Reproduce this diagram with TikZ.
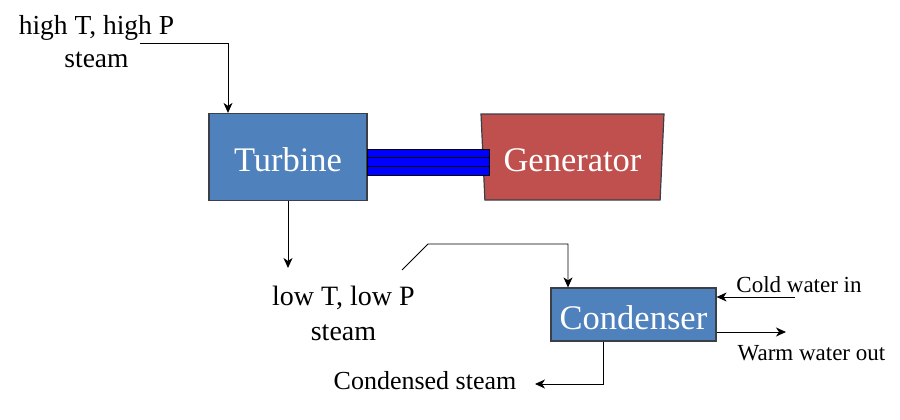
\documentclass[tikz,border=0pt]{standalone}
\usepackage{fontspec}
\setmainfont{Liberation Serif}
\usetikzlibrary{shapes.geometric,arrows.meta}

\begin{document}
\begin{tikzpicture}[x=1pt,y=-1pt,
  unit/.style={draw=edge,line width=1.2pt,text=white,inner sep=0pt,text height=29pt,text depth=0pt,font=\fontsize{34.5}{40}\selectfont},
  flow/.style={line width=0.9pt,-{Stealth[length=10pt,width=9pt,inset=3pt]}},
  note/.style={inner sep=0pt,align=center,anchor=base}]
\definecolor{turbblue}{HTML}{4F81BD}
\definecolor{genred}{HTML}{C0504D}
\definecolor{shaftblue}{HTML}{0000FF}
\definecolor{edge}{HTML}{3A3F48}
\useasboundingbox (0,0) rectangle (900,420);
\node[unit,fill=turbblue,minimum width=158pt,minimum height=87pt] (turbine) at (288,157) {Turbine};
\node[unit,fill=genred,trapezium,trapezium stretches=true,shape border rotate=180,
  trapezium left angle=84,trapezium right angle=84,minimum width=183pt,minimum height=86pt] (generator) at (572.5,157) {Generator};
\node[draw,fill=shaftblue,line width=1pt,minimum width=122pt,minimum height=26pt,inner sep=0pt] (shaft) at (428,162) {};
\foreach \dy in {-4.3,4.3}
  {\draw[line width=1.1pt] (shaft.west) ++(0,\dy) -- ++(122,0);}
\node[unit,fill=turbblue,minimum width=165pt,minimum height=53pt] (condenser) at (633.5,314.5) {Condenser};
\node[note,font=\fontsize{27.5}{33}\selectfont] (histeam) at (96.5,68) {high T, high P\\steam};
\node[note,font=\fontsize{28}{35}\selectfont] (lowsteam) at (343.5,340) {low T, low P\\steam};
\node[note,font=\fontsize{26}{30}\selectfont] (condensed) at (425,389) {Condensed steam};
\node[note,font=\fontsize{23}{28}\selectfont] (cold) at (799,292) {Cold water in};
\node[note,font=\fontsize{23}{28}\selectfont] (warm) at (811.5,360) {Warm water out};
\coordinate (hiin) at (140,43);
\coordinate (lowtip) at (288,268);
\coordinate (lowout) at (402,270);
\coordinate (drain) at (535,384);
\coordinate (coldin) at (795,297);
\coordinate (warmout) at (786,332);
\draw[flow] (hiin) -| ([xshift=-60pt]turbine.north);
\draw[flow] (turbine.south) -- (lowtip);
\draw[flow] (lowout) -- ++(26,-26) -| ([xshift=-65.5pt]condenser.north);
\draw[flow] ([xshift=-30.5pt]condenser.south) |- (drain);
\draw[flow] (coldin) -- (coldin -| condenser.east);
\draw[flow] (warmout -| condenser.east) -- (warmout);
\end{tikzpicture}
\end{document}
